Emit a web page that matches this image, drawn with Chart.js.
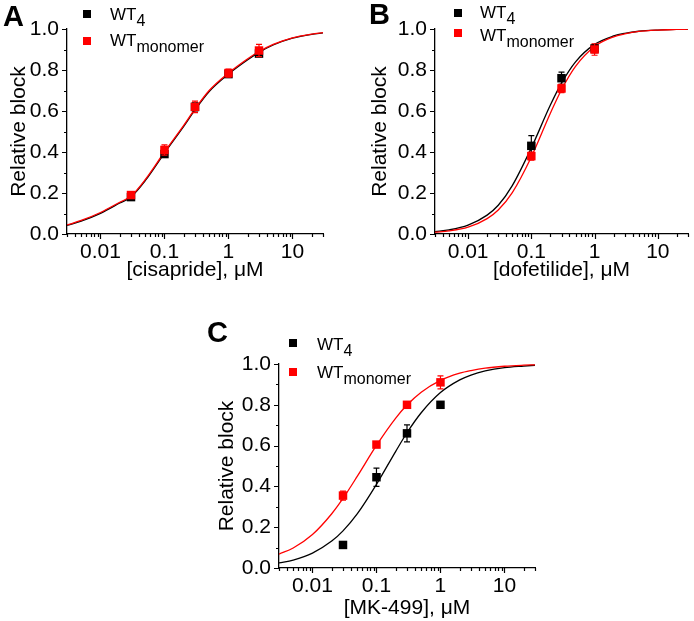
<!DOCTYPE html>
<html>
<head>
<meta charset="utf-8">
<script src="https://cdn.jsdelivr.net/npm/chart.js@4"></script>
<style>
  html, body { margin: 0; padding: 0; background: #fff; }
  body { width: 694px; height: 621px; position: relative; overflow: hidden; }
  canvas { position: absolute; }
</style>
</head>
<body>
<canvas id="cA" width="347" height="300" style="left:0px;top:0px;width:347px;height:300px"></canvas>
<canvas id="cB" width="326" height="300" style="left:368px;top:0px;width:326px;height:300px"></canvas>
<canvas id="cC" width="359" height="321" style="left:200px;top:300px;width:359px;height:321px"></canvas>
<script>
// ---------- data ----------
const xTickValues = [0.01, 0.1, 1, 10];
const xTickLabels = ['0.01', '0.1', '1', '10'];
const yTickValues = [0, 0.2, 0.4, 0.6, 0.8, 1.0];
const seriesNames = ['WT', 'WT'];
const seriesSubs = ['4', 'monomer'];

// fit-curve sample concentrations (µM)
const fitX = [0.003, 0.005, 0.01, 0.02, 0.03, 0.05, 0.1, 0.2, 0.3, 0.5, 1, 2, 3, 5, 10, 20, 30];

// Panel A: cisapride
const concA = [0.03, 0.1, 0.3, 1, 3];
const wt4A = [0.18, 0.39, 0.62, 0.78, 0.88];
const wt4ErrA = [0.012, 0.015, 0.02, 0.012, 0.012];
const monoA = [0.19, 0.41, 0.62, 0.785, 0.895];
const monoErrA = [0.015, 0.025, 0.028, 0.02, 0.03];
const fitWt4A = [0.042, 0.063, 0.101, 0.151, 0.181, 0.26, 0.395, 0.525, 0.605, 0.695, 0.78, 0.85, 0.886, 0.922, 0.955, 0.974, 0.981];
const fitMonoA = [0.044, 0.066, 0.105, 0.155, 0.185, 0.265, 0.40, 0.53, 0.61, 0.70, 0.785, 0.855, 0.89, 0.925, 0.957, 0.975, 0.982];

// Panel B: dofetilide
const concB = [0.1, 0.3, 1];
const wt4B = [0.43, 0.76, 0.905];
const wt4ErrB = [0.05, 0.03, 0.02];
const monoB = [0.38, 0.71, 0.90];
const monoErrB = [0.02, 0.02, 0.028];
const fitWt4B = [0.012, 0.02, 0.043, 0.092, 0.14, 0.236, 0.42, 0.629, 0.736, 0.84, 0.925, 0.966, 0.979, 0.989, 0.995, 0.998, 0.999];
const fitMonoB = [0.009, 0.015, 0.033, 0.075, 0.117, 0.202, 0.376, 0.589, 0.704, 0.818, 0.915, 0.962, 0.976, 0.988, 0.995, 0.998, 0.999];

// Panel C: MK-499
const concC = [0.03, 0.1, 0.3, 1];
const wt4C = [0.113, 0.445, 0.66, 0.80];
const wt4ErrC = [0.01, 0.045, 0.042, 0.01];
const monoC = [0.355, 0.605, 0.80, 0.91];
const monoErrC = [0.022, 0.012, 0.01, 0.032];
const fitWt4C = [0.025, 0.039, 0.073, 0.132, 0.182, 0.265, 0.41, 0.572, 0.663, 0.761, 0.86, 0.922, 0.946, 0.966, 0.982, 0.990, 0.994];
const fitMonoC = [0.068, 0.098, 0.164, 0.266, 0.341, 0.449, 0.601, 0.735, 0.799, 0.862, 0.920, 0.955, 0.968, 0.980, 0.989, 0.994, 0.996];

// ---------- styling ----------
const FONT = "'Liberation Sans', Arial, Helvetica, sans-serif";
const BLACK = '#000000';
const RED = '#ff0000';

const pts = (xs, ys) => xs.map((x, i) => ({ x: x, y: ys[i] }));

// error bars
const errorBarPlugin = {
  id: 'errorBars',
  beforeDatasetDraw(chart, args) {
    const ds = chart.data.datasets[args.index];
    if (!ds.errors) return;
    const meta = args.meta;
    const ys = chart.scales.y;
    const ctx = chart.ctx;
    ctx.save();
    ctx.strokeStyle = ds.borderColor;
    ctx.lineWidth = 1.2;
    meta.data.forEach((el, i) => {
      const v = ds.data[i].y, e = ds.errors[i];
      const x = el.x;
      const yTop = ys.getPixelForValue(v + e);
      const yBot = ys.getPixelForValue(v - e);
      ctx.beginPath();
      ctx.moveTo(x, yTop); ctx.lineTo(x, yBot);
      ctx.moveTo(x - 3, yTop); ctx.lineTo(x + 3, yTop);
      ctx.moveTo(x - 3, yBot); ctx.lineTo(x + 3, yBot);
      ctx.stroke();
    });
    ctx.restore();
  }
};

// tick marks (major + minor, outward)
const tickPlugin = {
  id: 'tickMarks',
  afterDraw(chart) {
    const ctx = chart.ctx;
    const xs = chart.scales.x, ys = chart.scales.y;
    const area = chart.chartArea;
    ctx.save();
    ctx.strokeStyle = BLACK;
    ctx.lineWidth = 1.2;
    ctx.beginPath();
    for (let k = 0; k <= 10; k++) {
      const v = k / 10;
      const py = Math.round(ys.getPixelForValue(v)) + 0.5;
      const len = (k % 2 === 0) ? 5 : 3;
      ctx.moveTo(area.left, py); ctx.lineTo(area.left - len, py);
    }
    for (let e = -3; e <= 1; e++) {
      for (let m = 1; m <= 9; m++) {
        const v = m * Math.pow(10, e);
        if (v < xs.min * 0.999 || v > xs.max * 1.001) continue;
        const px = Math.round(xs.getPixelForValue(v)) + 0.5;
        const len = (m === 1) ? 5 : 3;
        ctx.moveTo(px, area.bottom); ctx.lineTo(px, area.bottom + len);
      }
    }
    ctx.stroke();
    ctx.restore();
  }
};

// legend with subscripts + panel letter
const legendPlugin = {
  id: 'subLegend',
  afterDraw(chart, args, opts) {
    const ctx = chart.ctx;
    ctx.save();
    ctx.textBaseline = 'alphabetic';
    ctx.textAlign = 'left';
    ctx.fillStyle = BLACK;
    ctx.font = 'bold 29px ' + FONT;
    ctx.fillText(opts.letter, opts.letterX, opts.letterY);
    opts.rows.forEach((r, i) => {
      ctx.fillStyle = [BLACK, RED][i];
      ctx.fillRect(opts.sqX - 4, r.y - 4, 8, 8);
      ctx.fillStyle = BLACK;
      ctx.font = '17px ' + FONT;
      ctx.fillText(seriesNames[i], opts.textX, r.base);
      const w = ctx.measureText(seriesNames[i]).width;
      ctx.font = '16px ' + FONT;
      ctx.fillText(seriesSubs[i], opts.textX + w, r.base + 6);
    });
    ctx.restore();
  }
};

function makeChart(id, cfg) {
  const datasets = [
    { label: 'WTmonomer', data: pts(cfg.conc, cfg.mono), errors: cfg.monoErr, order: 0,
      showLine: false, pointStyle: 'rect', pointRadius: 6, pointHoverRadius: 6,
      backgroundColor: RED, borderColor: RED, pointBorderWidth: 0 },
    { label: 'WT4', data: pts(cfg.conc, cfg.wt4), errors: cfg.wt4Err, order: 1,
      showLine: false, pointStyle: 'rect', pointRadius: 6, pointHoverRadius: 6,
      backgroundColor: BLACK, borderColor: BLACK, pointBorderWidth: 0 },
    { label: 'fit WTmonomer', data: pts(fitX, cfg.fitMono), order: 2,
      showLine: true, pointRadius: 0, borderColor: RED, borderWidth: 1.3,
      cubicInterpolationMode: 'monotone', fill: false },
    { label: 'fit WT4', data: pts(fitX, cfg.fitWt4), order: 3,
      showLine: true, pointRadius: 0, borderColor: BLACK, borderWidth: 1.3,
      cubicInterpolationMode: 'monotone', fill: false }
  ];
  return new Chart(document.getElementById(id), {
    type: 'scatter',
    data: { datasets },
    plugins: [errorBarPlugin, tickPlugin, legendPlugin],
    options: {
      responsive: false,
      animation: false,
      devicePixelRatio: 1,
      layout: { padding: cfg.padding },
      plugins: {
        legend: { display: false },
        tooltip: { enabled: false },
        subLegend: cfg.legend
      },
      scales: {
        x: {
          type: 'logarithmic',
          min: 0.003, max: 30,
          afterBuildTicks: (s) => { s.ticks = xTickValues.map(v => ({ value: v })); },
          afterFit: (s) => { s.height = cfg.xH; },
          grid: { display: false, drawTicks: false },
          border: { display: true, color: BLACK, width: 1.3 },
          ticks: {
            color: BLACK, padding: 6, maxRotation: 0, autoSkip: false,
            font: { family: FONT, size: 21 },
            callback: (v) => { const i = xTickValues.indexOf(v); return i >= 0 ? xTickLabels[i] : ''; }
          },
          title: {
            display: true, text: cfg.xTitle, color: BLACK,
            font: { family: FONT, size: 21 },
            padding: { top: 0, bottom: cfg.xTitlePad }
          }
        },
        y: {
          type: 'linear',
          min: 0, max: 1,
          afterBuildTicks: (s) => { s.ticks = yTickValues.map(v => ({ value: v })); },
          afterFit: (s) => { s.width = cfg.yW; },
          grid: { display: false, drawTicks: false },
          border: { display: true, color: BLACK, width: 1.3 },
          ticks: {
            color: BLACK, padding: 8,
            font: { family: FONT, size: 21 },
            callback: (v) => Number(v).toFixed(1)
          },
          title: {
            display: true, text: 'Relative block', color: BLACK,
            font: { family: FONT, size: 21 },
            padding: { top: cfg.yTitlePad, bottom: 0 }
          }
        }
      }
    }
  });
}

makeChart('cA', {
  conc: concA, wt4: wt4A, wt4Err: wt4ErrA, mono: monoA, monoErr: monoErrA,
  fitWt4: fitWt4A, fitMono: fitMonoA,
  xTitle: '[cisapride], \u03bcM',
  padding: { top: 29, right: 24, bottom: 0, left: 0 },
  yW: 67, xH: 66, yTitlePad: 7, xTitlePad: 17,
  legend: { letter: 'A', letterX: 3, letterY: 26, sqX: 87, textX: 110,
            rows: [{ y: 14, base: 20 }, { y: 41, base: 46 }] }
});

makeChart('cB', {
  conc: concB, wt4: wt4B, wt4Err: wt4ErrB, mono: monoB, monoErr: monoErrB,
  fitWt4: fitWt4B, fitMono: fitMonoB,
  xTitle: '[dofetilide], \u03bcM',
  padding: { top: 29, right: 3, bottom: 0, left: 0 },
  yW: 67, xH: 66, yTitlePad: 0, xTitlePad: 17,
  legend: { letter: 'B', letterX: 1, letterY: 24, sqX: 90, textX: 112,
            rows: [{ y: 13, base: 18 }, { y: 33, base: 41 }] }
});

makeChart('cC', {
  conc: concC, wt4: wt4C, wt4Err: wt4ErrC, mono: monoC, monoErr: monoErrC,
  fitWt4: fitWt4C, fitMono: fitMonoC,
  xTitle: '[MK-499], \u03bcM',
  padding: { top: 64, right: 24, bottom: 0, left: 0 },
  yW: 79, xH: 53, yTitlePad: 15, xTitlePad: 0,
  legend: { letter: 'C', letterX: 7, letterY: 42, sqX: 93, textX: 117,
            rows: [{ y: 43, base: 50 }, { y: 72, base: 78 }] }
});
</script>
</body>
</html>
